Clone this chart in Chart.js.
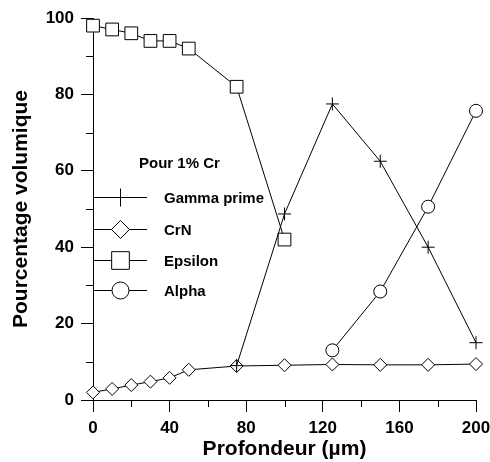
<!DOCTYPE html>
<html>
<head>
<meta charset="utf-8">
<script src="https://cdn.jsdelivr.net/npm/chart.js@4/dist/chart.umd.min.js"></script>
<style>
  html, body { margin: 0; padding: 0; background: #fff; }
  #wrap { width: 490px; height: 462px; }
</style>
</head>
<body>
<div id="wrap"><canvas id="c" width="490" height="462"></canvas></div>
<script>
// données (Pour 1% Cr)
const depthEpsilon = [0, 10, 20, 30, 40, 50, 75, 100];
const epsilon = [98, 97, 96, 94, 94, 92, 82, 42];
const depthGamma = [75, 100, 125, 150, 175, 200];
const gammaPrime = [9, 48.7, 77.5, 62.5, 40, 15];
const depthCrN = [0, 10, 20, 30, 40, 50, 75, 100, 125, 150, 175, 200];
const crN = [2, 2.9, 3.9, 4.8, 5.8, 7.9, 8.9, 9.1, 9.3, 9.2, 9.2, 9.4];
const depthAlpha = [125, 150, 175, 200];
const alpha = [13, 28.4, 50.6, 75.7];

const xTicks = [0, 40, 80, 120, 160, 200];
const yTicks = [0, 20, 40, 60, 80, 100];

const FONT = "'Liberation Sans', Arial, sans-serif";
const pts = (xs, ys) => xs.map((x, i) => ({ x, y: ys[i] }));

// r = taille dans le graphique, lr = taille dans la légende
const styles = {
  gamma: { pointStyle: "cross", r: 6.5, lr: 9 },
  crn: { pointStyle: "rectRot", r: 6.5, lr: 9 },
  eps: { pointStyle: "rect", r: 9, lr: 12.5 },
  alpha: { pointStyle: "circle", r: 6.5, lr: 8.5 },
};

function ds(label, data, st, order) {
  return {
    label, data, order,
    borderColor: "#000", borderWidth: 1,
    pointBackgroundColor: "#fff", pointBorderColor: "#000", pointBorderWidth: 1,
    pointStyle: st.pointStyle, pointRadius: st.r,
    tension: 0, fill: false, clip: false,
  };
}

// petites graduations intermédiaires
const minorTicks = {
  id: "minorTicks",
  afterDraw(chart) {
    const { ctx, scales: { x, y } } = chart;
    ctx.save();
    ctx.strokeStyle = "#000";
    ctx.lineWidth = 1;
    ctx.beginPath();
    for (let v = 20; v < 200; v += 40) {
      const px = Math.round(x.getPixelForValue(v)) + 0.5;
      ctx.moveTo(px, y.bottom);
      ctx.lineTo(px, y.bottom + 7);
    }
    for (let v = 10; v < 100; v += 20) {
      const py = Math.round(y.getPixelForValue(v)) + 0.5;
      ctx.moveTo(x.left, py);
      ctx.lineTo(x.left - 7, py);
    }
    ctx.stroke();
    ctx.restore();
  },
};

// légende dans le graphique
const legendBox = {
  id: "legendBox",
  afterDraw(chart) {
    const ctx = chart.ctx;
    const items = [
      ["Gamma prime", styles.gamma],
      ["CrN", styles.crn],
      ["Epsilon", styles.eps],
      ["Alpha", styles.alpha],
    ];
    ctx.save();
    ctx.fillStyle = "#000";
    ctx.font = "bold 15px " + FONT;
    ctx.textBaseline = "middle";
    ctx.textAlign = "left";
    ctx.fillText("Pour 1% Cr", 139, 164);
    const rows = [197, 229, 260, 290];
    items.forEach(([name, st], i) => {
      const yy = rows[i] + 0.5;
      ctx.strokeStyle = "#000";
      ctx.lineWidth = 1;
      ctx.beginPath();
      ctx.moveTo(94, yy);
      ctx.lineTo(147, yy);
      ctx.stroke();
      ctx.fillStyle = "#fff";
      Chart.helpers.drawPoint(ctx, {
        pointStyle: st.pointStyle, radius: st.lr, borderWidth: 1, rotation: 0,
      }, 120.5, yy);
      ctx.fillStyle = "#000";
      ctx.fillText(name, 164, yy + 1);
    });
    ctx.restore();
  },
};

new Chart(document.getElementById("c"), {
  type: "line",
  data: {
    datasets: [
      ds("Gamma prime", pts(depthGamma, gammaPrime), styles.gamma, 0),
      ds("CrN", pts(depthCrN, crN), styles.crn, 2),
      ds("Epsilon", pts(depthEpsilon, epsilon), styles.eps, 1),
      ds("Alpha", pts(depthAlpha, alpha), styles.alpha, 3),
    ],
  },
  options: {
    responsive: false,
    animation: false,
    layout: { padding: { top: 18, right: 14, left: 0, bottom: 0 } },
    plugins: { legend: { display: false }, tooltip: { enabled: false } },
    scales: {
      x: {
        type: "linear", min: 0, max: 200,
        afterBuildTicks: (s) => { s.ticks = xTicks.map((v) => ({ value: v })); },
        afterFit: (s) => { s.height = 62; s.paddingLeft = 0; s.paddingRight = 0; },
        grid: { drawOnChartArea: false, tickLength: 12, color: "#000" },
        border: { color: "#000", width: 1 },
        ticks: { color: "#000", font: { family: FONT, size: 17, weight: "bold" }, padding: 6, maxRotation: 0 },
        title: { display: true, text: "Profondeur (µm)", color: "#000",
          font: { family: FONT, size: 21, weight: "bold" }, padding: { top: 0, bottom: 0 } },
      },
      y: {
        type: "linear", min: 0, max: 100,
        afterBuildTicks: (s) => { s.ticks = yTicks.map((v) => ({ value: v })); },
        afterFit: (s) => { s.width = 93; s.paddingTop = 0; s.paddingBottom = 0; },
        grid: { drawOnChartArea: false, tickLength: 12, color: "#000" },
        border: { color: "#000", width: 1 },
        ticks: { color: "#000", font: { family: FONT, size: 17, weight: "bold" }, padding: 7 },
        title: { display: true, text: "Pourcentage volumique", color: "#000",
          font: { family: FONT, size: 21, weight: "bold" }, padding: { top: 9, bottom: 0 } },
      },
    },
  },
  plugins: [minorTicks, legendBox],
});
</script>
</body>
</html>
